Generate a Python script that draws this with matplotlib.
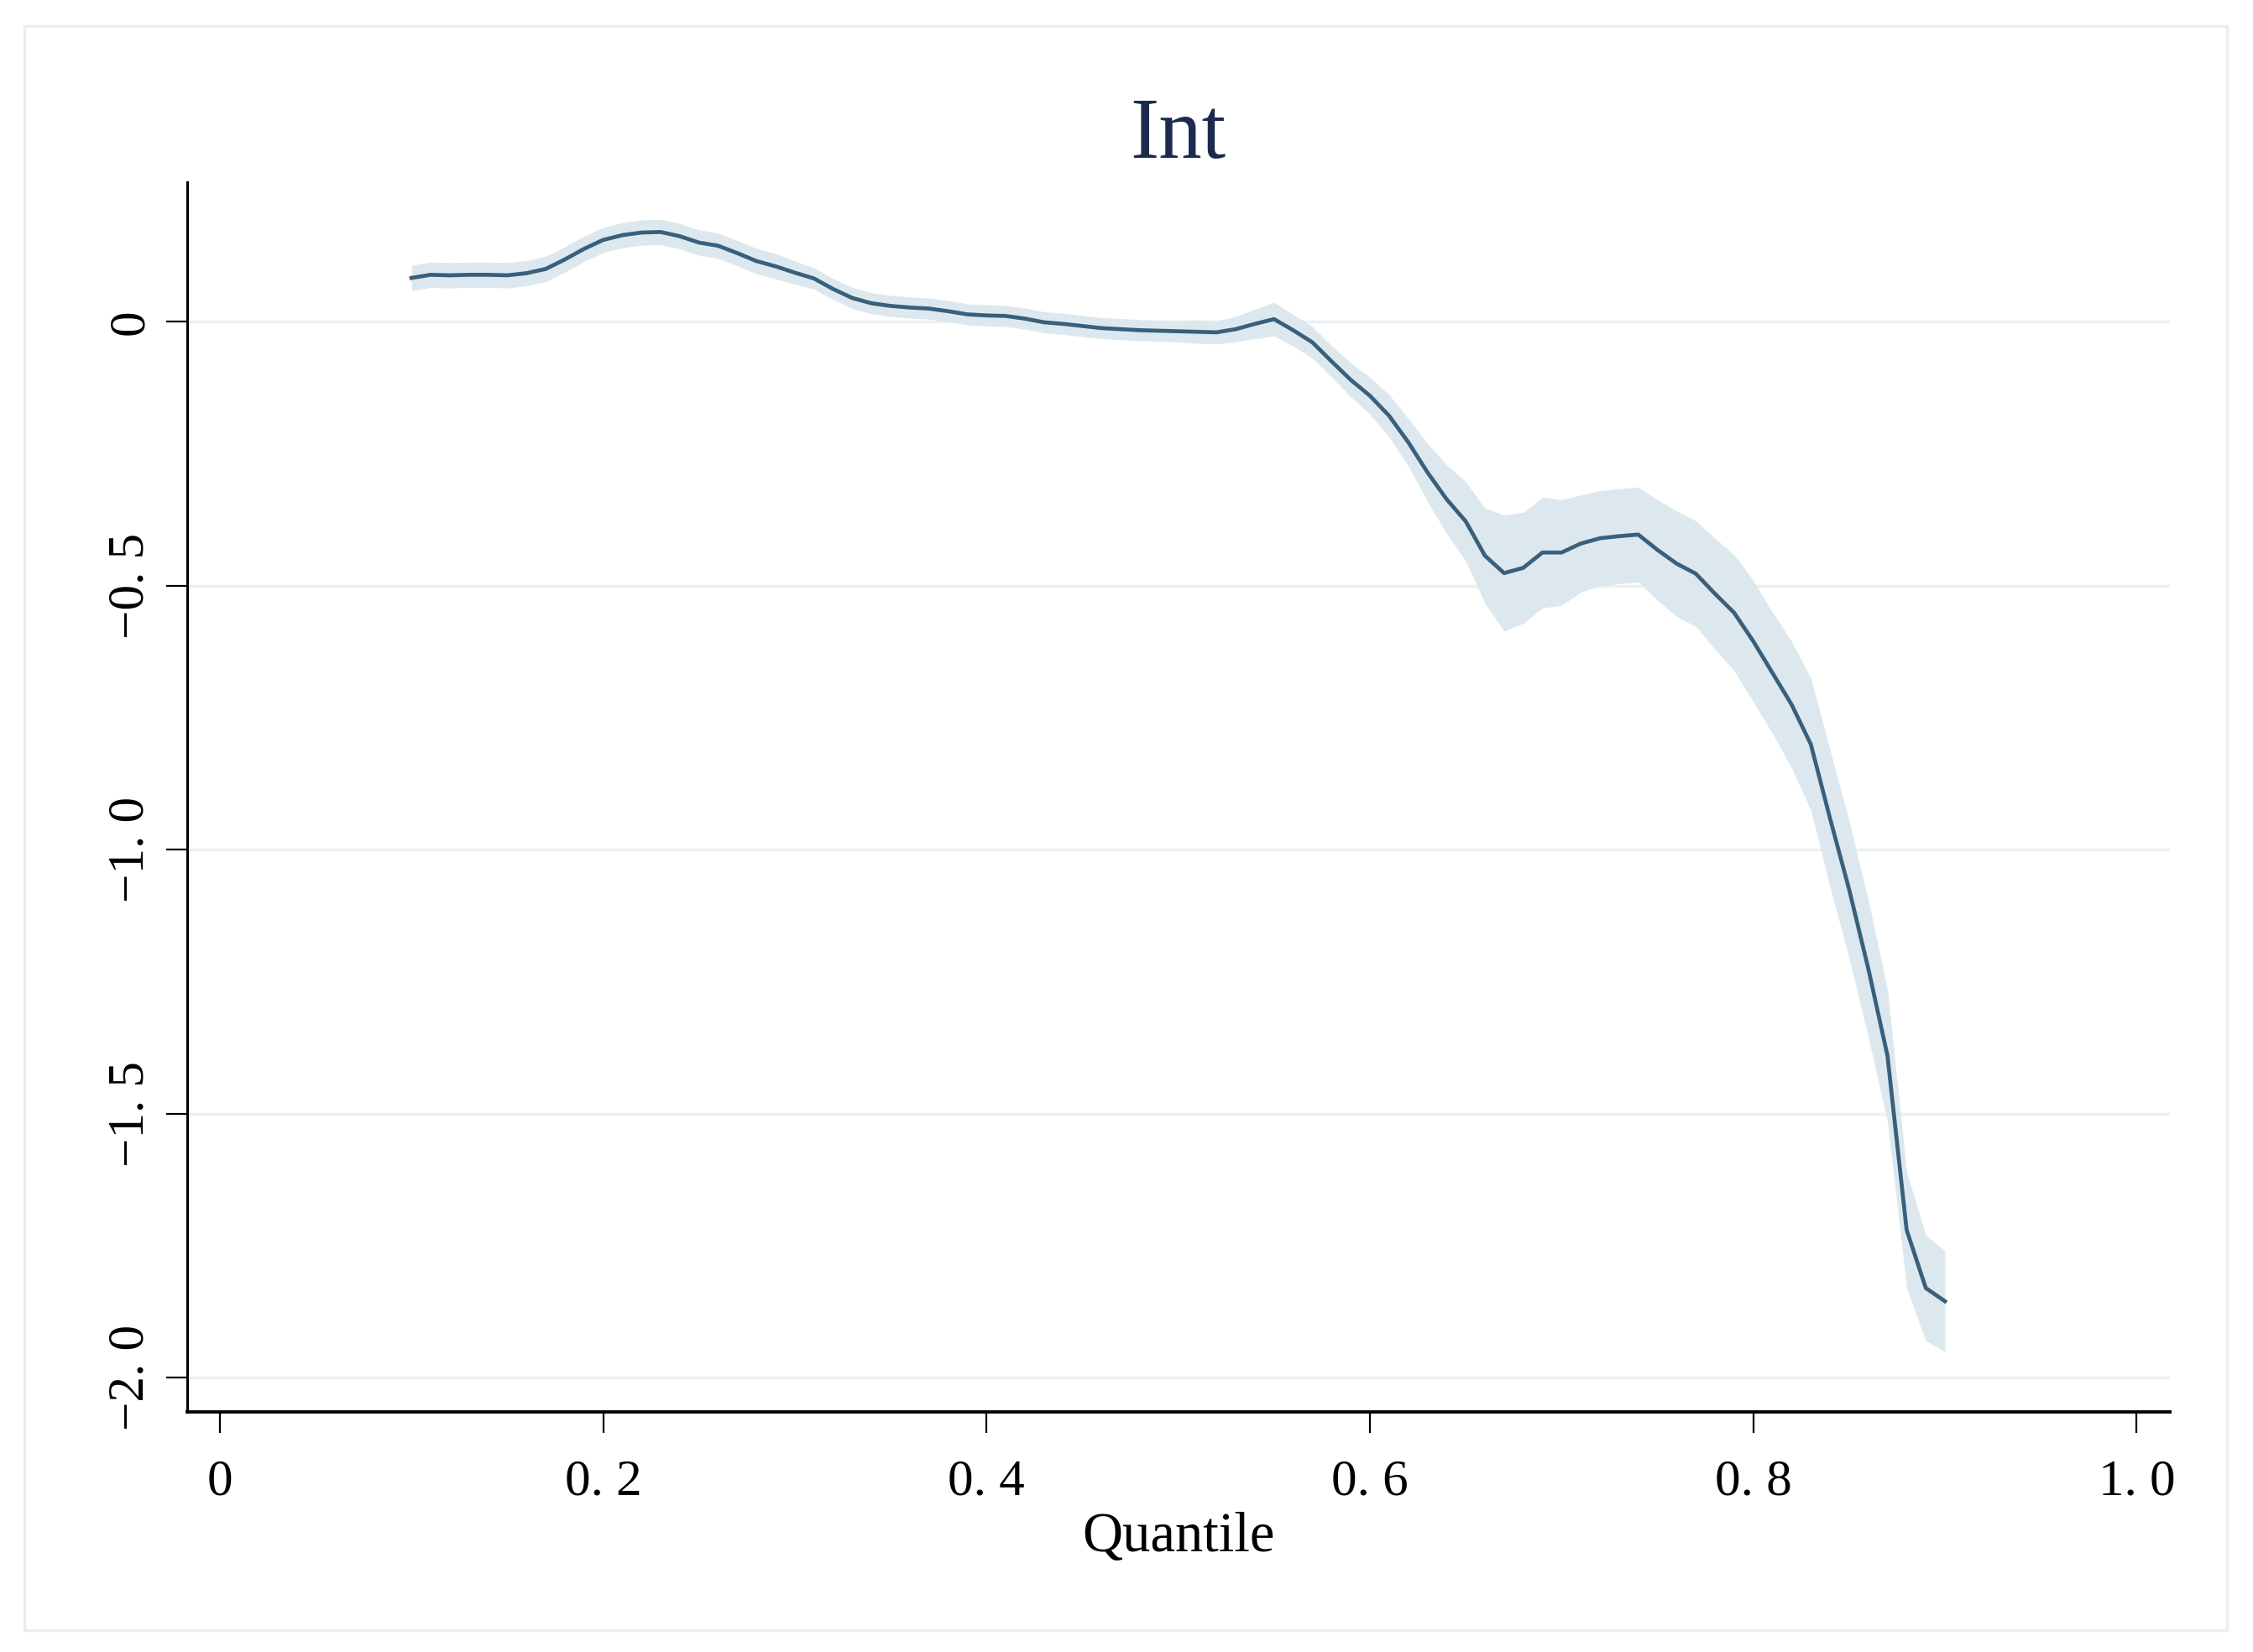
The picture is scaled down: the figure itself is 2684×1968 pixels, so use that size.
import matplotlib
matplotlib.use('Agg')
import matplotlib.pyplot as plt
from matplotlib.patches import Rectangle
import numpy as np

# quantile process estimates for Int
quantile = [0.10, 0.11, 0.12, 0.13, 0.14, 0.15, 0.16, 0.17, 0.18, 0.19,
            0.20, 0.21, 0.22, 0.23, 0.24, 0.25, 0.26, 0.27, 0.28, 0.29,
            0.30, 0.31, 0.32, 0.33, 0.34, 0.35, 0.36, 0.37, 0.38, 0.39,
            0.40, 0.41, 0.42, 0.43, 0.44, 0.45, 0.46, 0.47, 0.48, 0.49,
            0.50, 0.51, 0.52, 0.53, 0.54, 0.55, 0.56, 0.57, 0.58, 0.59,
            0.60, 0.61, 0.62, 0.63, 0.64, 0.65, 0.66, 0.67, 0.68, 0.69,
            0.70, 0.71, 0.72, 0.73, 0.74, 0.75, 0.76, 0.77, 0.78, 0.79,
            0.80, 0.81, 0.82, 0.83, 0.84, 0.85, 0.86, 0.87, 0.88, 0.89,
            0.90]
coef = [0.083, 0.089, 0.088, 0.089, 0.089, 0.088, 0.092, 0.100, 0.118, 0.138,
        0.155, 0.164, 0.169, 0.170, 0.162, 0.150, 0.144, 0.130, 0.115, 0.105,
        0.093, 0.082, 0.062, 0.045, 0.035, 0.030, 0.027, 0.025, 0.020, 0.014,
        0.012, 0.011, 0.006, -0.001, -0.004, -0.008, -0.012, -0.014, -0.016, -0.017,
        -0.018, -0.019, -0.020, -0.014, -0.004, 0.005, -0.016, -0.039, -0.075, -0.110,
        -0.140, -0.178, -0.228, -0.285, -0.336, -0.378, -0.443, -0.476, -0.466, -0.437,
        -0.437, -0.420, -0.410, -0.406, -0.403, -0.432, -0.458, -0.477, -0.515, -0.551,
        -0.605, -0.665, -0.725, -0.800, -0.940, -1.075, -1.225, -1.390, -1.720, -1.830,
        -1.855]
ci_half = [0.024, 0.024, 0.024, 0.024, 0.024, 0.024, 0.024, 0.024, 0.024, 0.024,
           0.024, 0.024, 0.024, 0.024, 0.024, 0.024, 0.024, 0.024, 0.024, 0.024,
           0.022, 0.020, 0.020, 0.020, 0.020, 0.020, 0.020, 0.020, 0.020, 0.020,
           0.020, 0.020, 0.020, 0.020, 0.020, 0.020, 0.020, 0.020, 0.020, 0.020,
           0.020, 0.022, 0.022, 0.024, 0.028, 0.032, 0.030, 0.030, 0.030, 0.032,
           0.035, 0.040, 0.045, 0.055, 0.065, 0.075, 0.090, 0.110, 0.105, 0.105,
           0.100, 0.092, 0.090, 0.090, 0.090, 0.095, 0.100, 0.100, 0.105, 0.110,
           0.115, 0.115, 0.120, 0.125, 0.130, 0.130, 0.130, 0.125, 0.110, 0.100,
           0.095]

xticks = [0, 0.2, 0.4, 0.6, 0.8, 1.0]
xticklabels = ['0', '0. 2', '0. 4', '0. 6', '0. 8', '1. 0']
yticks = [0, -0.5, -1.0, -1.5, -2.0]
yticklabels = ['0', '\u22120. 5', '\u22121. 0', '\u22121. 5', '\u22122. 0']

q = np.array(quantile)
b = np.array(coef)
h = np.array(ci_half)

serif = ['Liberation Serif', 'DejaVu Serif']

fig = plt.figure(figsize=(26.84, 19.68), dpi=100)
fig.patch.set_facecolor('white')

# light outer frame
fig.patches.append(Rectangle((0.0108, 0.013), 0.9777, 0.9713, transform=fig.transFigure,
                             fill=False, edgecolor='#e7eff0', linewidth=2.5))

ax = fig.add_axes([0.0829, 0.1452, 0.8801, 0.7444])
ax.set_facecolor('white')

ax.fill_between(q, b - h, b + h, color='#dde8ee', linewidth=0, zorder=2)
ax.plot(q, b, color='#38607c', linewidth=3.4, zorder=3)

ax.set_xlim(-0.0172, 1.0172)
ax.set_ylim(-2.065, 0.264)

for yv in yticks:
    ax.axhline(yv, color='#eaf2f3', linewidth=2.5, zorder=1)

ax.set_xticks(xticks)
ax.set_xticklabels(xticklabels, family=serif, fontsize=44)
ax.set_yticks(yticks)
ax.set_yticklabels(yticklabels, family=serif, fontsize=44, rotation=90, va='center')

ax.tick_params(axis='x', direction='out', length=18, width=1.6, pad=22, colors='black')
ax.tick_params(axis='y', direction='out', length=18, width=1.6, pad=10, colors='black')

ax.spines['top'].set_visible(False)
ax.spines['right'].set_visible(False)
ax.spines['left'].set_linewidth(2.2)
ax.spines['bottom'].set_linewidth(2.8)

fig.text(0.523, 0.917, 'Int', ha='center', va='center', family=serif,
         fontsize=74, color='#1b2a4e')
fig.text(0.523, 0.0696, 'Quantile', ha='center', va='center', family=serif,
         fontsize=48, color='black')

fig.savefig('out.png', dpi=100, facecolor='white')
